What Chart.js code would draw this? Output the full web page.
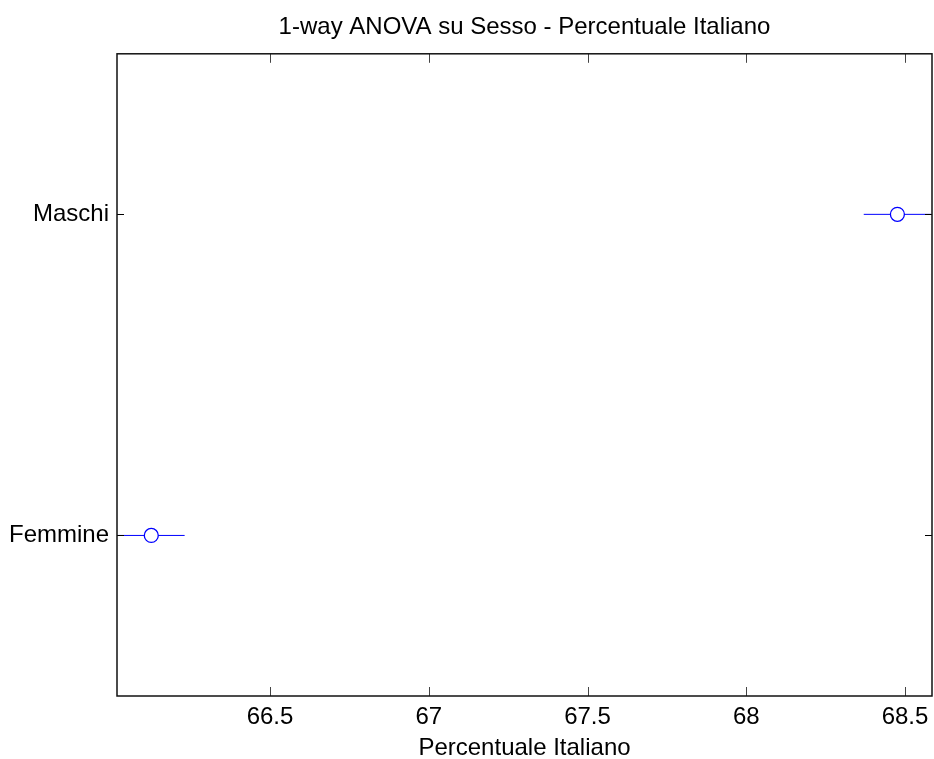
<!DOCTYPE html>
<html>
<head>
<meta charset="utf-8">
<script src="https://cdn.jsdelivr.net/npm/chart.js@4/dist/chart.umd.min.js"></script>
<style>
  html, body { margin: 0; padding: 0; background: #ffffff; overflow: hidden; }
  #wrap { width: 934px; height: 759px; position: relative; }
</style>
</head>
<body>
<div id="wrap"><canvas id="c" width="934" height="759"></canvas></div>
<script>
// ---- data ----
const groups = ['Maschi', 'Femmine'];          // y categories, top to bottom
const means  = [68.476, 66.126];               // group means (circles)
const lowerCI = [68.370, 66.021];              // comparison interval lower ends
const upperCI = [68.582, 66.231];              // comparison interval upper ends
const xTicks = [66.5, 67, 67.5, 68, 68.5];     // x tick labels
const xMin = 66.018, xMax = 68.585;
const titleText = '1-way ANOVA su Sesso - Percentuale Italiano';
const xLabel = 'Percentuale Italiano';

const FONT = "'Liberation Sans', Arial, Helvetica, sans-serif";
const BLUE = 'rgb(0,0,255)';

const datasets = [];
groups.forEach((g, i) => {
  datasets.push({
    label: g + ' interval',
    data: [{x: lowerCI[i], y: i + 1}, {x: upperCI[i], y: i + 1}],
    showLine: true,
    borderColor: BLUE,
    borderWidth: 1,
    pointRadius: 0,
    order: 2
  });
});
datasets.push({
  label: 'means',
  data: groups.map((g, i) => ({x: means[i], y: i + 1})),
  showLine: false,
  pointStyle: 'circle',
  pointRadius: 7,
  pointBorderWidth: 1.3,
  pointBorderColor: BLUE,
  pointBackgroundColor: '#ffffff',
  order: 0
});

const boxPlugin = {
  id: 'boxPlugin',
  afterDatasetsDraw(chart) {
    const {ctx, chartArea: a, scales} = chart;
    ctx.save();
    ctx.strokeStyle = '#444';
    ctx.lineWidth = 1;
    scales.x.ticks.forEach(t => {
      const px = Math.round(scales.x.getPixelForValue(t.value)) + 0.5;
      ctx.beginPath();
      ctx.moveTo(px, a.bottom); ctx.lineTo(px, a.bottom - 9);
      ctx.moveTo(px, a.top); ctx.lineTo(px, a.top + 9);
      ctx.stroke();
    });
    ctx.strokeStyle = '#000';
    scales.y.ticks.forEach(t => {
      const py = Math.round(scales.y.getPixelForValue(t.value)) + 0.5;
      ctx.beginPath();
      ctx.moveTo(a.left, py); ctx.lineTo(a.left + 7, py);
      ctx.moveTo(a.right, py); ctx.lineTo(a.right - 7, py);
      ctx.stroke();
    });
    ctx.strokeStyle = '#111';
    ctx.lineWidth = 1.5;
    ctx.strokeRect(a.left, a.top, a.right - a.left, a.bottom - a.top);
    // title centred over the plot box (MATLAB style)
    const tb = chart.titleBlock;
    ctx.fillStyle = '#000';
    ctx.font = "normal 24px " + FONT;
    ctx.textAlign = 'center';
    ctx.textBaseline = 'middle';
    const th = 24 * 1.2;
    ctx.fillText(titleText, (a.left + a.right) / 2, tb.top + 13 + th / 2);
    ctx.restore();
  }
};

new Chart(document.getElementById('c'), {
  type: 'scatter',
  data: { datasets },
  options: {
    responsive: false,
    animation: false,
    events: [],
    layout: { autoPadding: false, padding: { left: 0, right: 2, top: 0, bottom: 0 } },
    plugins: {
      legend: { display: false },
      tooltip: { enabled: false },
      title: {
        display: true,
        text: titleText,
        color: 'rgba(0,0,0,0)',
        font: { family: FONT, size: 24, weight: 'normal', lineHeight: 1.2 },
        padding: { top: 13, bottom: 12 }
      }
    },
    scales: {
      x: {
        type: 'linear',
        min: xMin, max: xMax,
        grid: { display: false, drawTicks: false },
        border: { display: false },
        afterBuildTicks(s) { s.ticks = xTicks.map(v => ({value: v})); },
        afterFit(s) { s.height = 63; s.paddingLeft = 0; s.paddingRight = 0; },
        ticks: {
          color: '#000',
          padding: 7,
          maxRotation: 0,
          autoSkip: false,
          font: { family: FONT, size: 24 },
          callback: v => String(v)
        },
        title: {
          display: true,
          text: xLabel,
          color: '#000',
          font: { family: FONT, size: 24 },
          padding: { top: 0, bottom: -4 }
        }
      },
      y: {
        type: 'linear',
        min: 0.5, max: 2.5,
        reverse: true,
        grid: { display: false, drawTicks: false },
        border: { display: false },
        afterBuildTicks(s) { s.ticks = groups.map((g, i) => ({value: i + 1})); },
        afterFit(s) { s.width = 117; s.paddingTop = 0; s.paddingBottom = 0; },
        ticks: {
          color: '#000',
          padding: 8,
          autoSkip: false,
          font: { family: FONT, size: 24 },
          callback: v => groups[v - 1]
        }
      }
    }
  },
  plugins: [boxPlugin]
});
</script>
</body>
</html>
